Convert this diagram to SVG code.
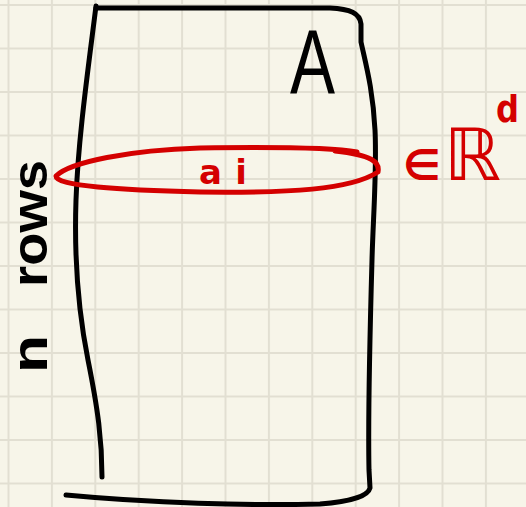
<svg xmlns="http://www.w3.org/2000/svg" width="526" height="507" viewBox="0 0 526 507">
<defs>
<pattern id="grid" x="7.5" y="4" width="43.4" height="43.5" patternUnits="userSpaceOnUse">
<rect width="43.4" height="43.5" fill="#f7f5e9"/>
<path d="M1,0 V43.5 M0,1 H43.4" stroke="#e2dfd2" stroke-width="2" fill="none"/>
</pattern>
<style>
.ink{fill:none;stroke:#000;stroke-width:5;stroke-linecap:round;stroke-linejoin:round}
.red{fill:none;stroke:#d40000;stroke-width:5;stroke-linecap:round;stroke-linejoin:round}
.blk{fill:#000;font-family:"Liberation Sans",sans-serif}
.rt{fill:#d40000;font-family:"DejaVu Sans","Liberation Sans",sans-serif}
</style>
</defs>
<rect x="-10" y="-10" width="546" height="527" fill="url(#grid)"/>
<g id="matrix">
<path class="ink" d="M96,6 C 88,70 78,140 76,200 C 74,260 78,310 88,360 C 98,410 102,440 102,477"/>
<path class="ink" d="M96,8 L 330,8 C 350,9 360,13 361,24 L361,42 C 366,65 373,90 375,130 C 377,170 373,220 372,260 C 370,330 368,420 369,470 L370,488 C 368,496 350,502 320,504 C 250,506 150,503 66,495"/>
<text class="blk" x="290" y="93" font-size="90" textLength="45" lengthAdjust="spacingAndGlyphs">A</text>
</g>
<g id="row">
<path class="red" d="M357,152 C 330,147 270,147 200,148 C 130,150 70,162 56,176 C 55,186 120,190 200,192 C 290,193 350,190 378,172 C 380,162 372,155 335,151"/>
<text class="rt" x="199" y="184" font-size="34" font-weight="bold" textLength="48" lengthAdjust="spacing">ai</text>
</g>
<g id="membership">
<text class="rt" y="180"><tspan x="403" font-size="42" font-weight="bold">∈</tspan><tspan x="444" font-size="72">ℝ</tspan><tspan x="496" y="122" font-size="38" font-weight="bold" textLength="23" lengthAdjust="spacingAndGlyphs">d</tspan></text>
</g>
<g id="nrows">
<text class="blk" font-size="50" font-weight="bold" transform="translate(47,373) rotate(-90)" textLength="38" lengthAdjust="spacingAndGlyphs">n</text>
<text class="blk" font-size="50" font-weight="bold" transform="translate(47,287) rotate(-90)" textLength="127" lengthAdjust="spacingAndGlyphs">rows</text>
</g>
</svg>
